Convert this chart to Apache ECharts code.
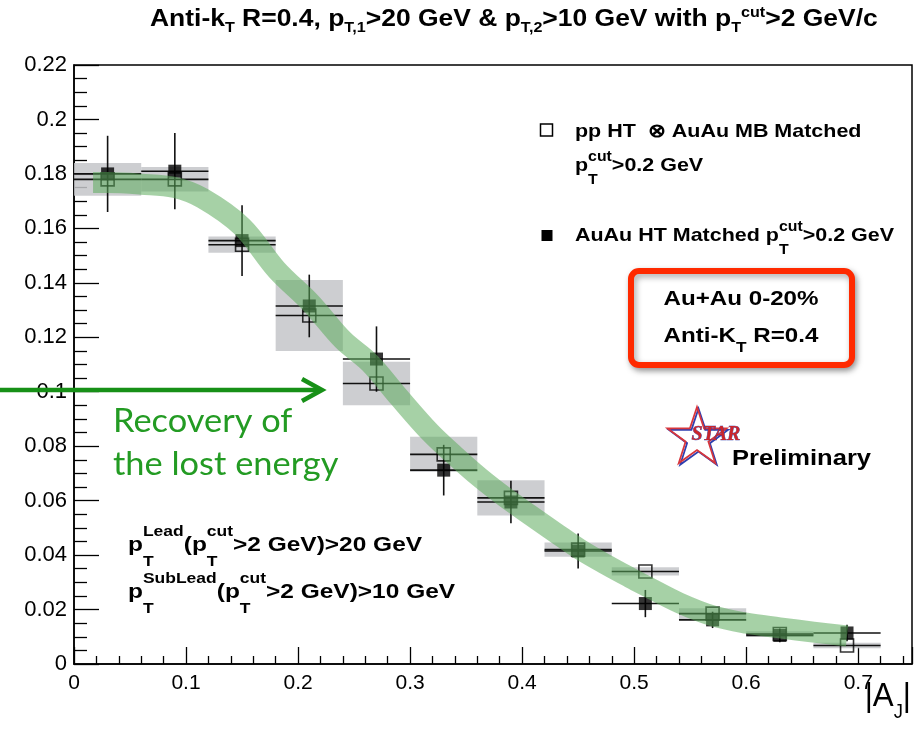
<!DOCTYPE html>
<html>
<head>
<meta charset="utf-8">
<script src="https://cdn.jsdelivr.net/npm/echarts@6/dist/echarts.min.js"></script>
<style>
  html, body { margin: 0; padding: 0; background: #fff; }
  #chart { width: 923px; height: 738px; }
</style>
</head>
<body>
<div id="chart"></div>
<script>
// Bin centres in |A_J| (bin width 0.06)
const binCenters = [0.03, 0.09, 0.15, 0.21, 0.27, 0.33, 0.39, 0.45, 0.51, 0.57, 0.63, 0.69];
const binHalfWidth = 0.03;

// pp HT (x) AuAu MB matched, pT cut > 0.2 GeV (open squares) with systematic boxes
const ppMatched = [0.178, 0.178, 0.154, 0.128, 0.103, 0.077, 0.061, 0.042, 0.034, 0.0185, 0.011, 0.0068];
const ppSys     = [0.006, 0.0045, 0.003, 0.013, 0.008, 0.0065, 0.0065, 0.0026, 0.0015, 0.002, 0.001, 0.001];

// AuAu HT matched, pT cut > 0.2 GeV (filled squares) with statistical errors
const auauMatched = [0.180, 0.181, 0.1555, 0.1315, 0.112, 0.0712, 0.0595, 0.0415, 0.0222, 0.0162, 0.0105, 0.0114];
const auauStat    = [0.014, 0.014, 0.013, 0.0115, 0.012, 0.0093, 0.0078, 0.0064, 0.005, 0.003, 0.0025, 0.003];

// Hand-drawn trend band through the points
const bandX = [0.017, 0.03, 0.06, 0.09, 0.115, 0.15, 0.181, 0.211, 0.240, 0.264, 0.29, 0.318, 0.34, 0.3625, 0.385, 0.407, 0.43, 0.452, 0.475, 0.496, 0.51, 0.54, 0.57, 0.60, 0.63, 0.66, 0.69];
const bandY = [0.1768, 0.1768, 0.1762, 0.175, 0.171, 0.1606, 0.1447, 0.1327, 0.119, 0.1106, 0.098, 0.085, 0.0765, 0.0684, 0.0612, 0.0548, 0.0482, 0.042, 0.0365, 0.0318, 0.0288, 0.0225, 0.0177, 0.015, 0.0133, 0.0117, 0.0103];

// Axis ticks
const yTickStep = 0.02;
const xTickStep = 0.1;

const SANS = '"Liberation Sans", Arial, Helvetica, sans-serif';
const mctx = document.createElement('canvas').getContext('2d');
function textWidth(str, font) { mctx.font = font; return mctx.measureText(str).width; }

// Builds a line of text with TeX-like sub/superscripts as a graphic group.
// y is the vertical centre of the base-size capitals.
function latexLine(x, y, segs, o) {
  const s = o.size, ss = Math.round(s * (o.script || 0.7));
  const weight = o.weight || 'bold';
  const family = o.family || SANS;
  const fontOf = (sz) => weight + ' ' + sz + 'px ' + family;
  const mid = 0.3465;
  const base = mid * s;
  const sx = o.scaleX || 1;
  const z = o.z || 100;
  const children = [];
  let cx = 0;
  const put = (px, py, str, sz) => children.push({
    type: 'text', x: px, y: py, z: z,
    style: { text: str, font: fontOf(sz), fill: o.color || '#000', align: 'left', verticalAlign: 'middle', textAlign: 'left', textVerticalAlign: 'middle' }
  });
  segs.forEach(g => {
    if (typeof g === 'string') {
      put(cx, 0, g, s);
      cx += textWidth(g, fontOf(s));
    } else {
      let w = 0;
      if (g.sup) { put(cx, base - (o.rise || 0.7) * s - mid * ss, g.sup, ss); w = Math.max(w, textWidth(g.sup, fontOf(ss))); }
      if (g.sub) { put(cx, base + (o.drop || 0.6) * s - mid * ss, g.sub, ss); w = Math.max(w, textWidth(g.sub, fontOf(ss))); }
      cx += w;
    }
  });
  let gx = x;
  if (o.align === 'right') gx = x - cx * sx;
  else if (o.align === 'center') gx = x - cx * sx / 2;
  return { type: 'group', x: gx, y: y, scaleX: sx, children: children, z: z };
}

function starPoints(cx, cy, R, r) {
  const pts = [];
  for (let i = 0; i < 10; i++) {
    const a = -Math.PI / 2 + i * Math.PI / 5;
    const rad = i % 2 === 0 ? R : r;
    pts.push([cx + rad * Math.cos(a), cy + rad * Math.sin(a)]);
  }
  return pts;
}

const chart = echarts.init(document.getElementById('chart'), null, { renderer: 'canvas' });

const boxData = binCenters.map((c, i) => [c, ppMatched[i], ppSys[i]]);
const ppErrData = binCenters.map((c, i) => [c, ppMatched[i], 0]);
const auErrData = binCenters.map((c, i) => [c, auauMatched[i], auauStat[i]]);

function errRender(params, api) {
  const x = api.value(0), y = api.value(1), e = api.value(2);
  const l = api.coord([x - binHalfWidth, y]);
  const r = api.coord([x + binHalfWidth, y]);
  const children = [{ type: 'line', shape: { x1: l[0], y1: l[1], x2: r[0], y2: r[1] }, style: { stroke: '#111', lineWidth: 1.6 } }];
  if (e > 0) {
    const t = api.coord([x, y + e]);
    const b = api.coord([x, y - e]);
    children.push({ type: 'line', shape: { x1: t[0], y1: t[1], x2: b[0], y2: b[1] }, style: { stroke: '#111', lineWidth: 1.6 } });
  }
  return { type: 'group', children: children };
}

const legendFont = { size: 19, scaleX: 1.13, rise: 0.55, drop: 0.66, script: 0.76 };
const cutFont = { size: 21, scaleX: 1.165, script: 0.72, rise: 0.75, drop: 0.66 };
const noteFont = { size: 32, scaleX: 1.075, weight: 'normal', family: 'Lato, "Open Sans", sans-serif', color: '#239b23', z: 110 };

const option = {
  animation: false,
  backgroundColor: '#fff',
  grid: { left: 74, top: 65, right: 11, bottom: 74, show: true, borderColor: '#000', borderWidth: 1.5, backgroundColor: 'transparent' },
  xAxis: {
    type: 'value', min: 0, max: 0.748, interval: xTickStep,
    axisLine: { show: true, onZero: false, lineStyle: { color: '#000', width: 1.5 } },
    axisTick: { show: true, inside: true, length: 17, lineStyle: { color: '#000', width: 1.3 } },
    minorTick: { show: true, splitNumber: 5, length: 8, lineStyle: { color: '#000', width: 1.3 } },
    splitLine: { show: false },
    axisLabel: {
      fontFamily: SANS, fontSize: 21, color: '#000', margin: 9, showMaxLabel: false,
      formatter: v => Math.abs(v / xTickStep - Math.round(v / xTickStep)) < 1e-6 ? String(+v.toFixed(2)) : ''
    }
  },
  yAxis: {
    type: 'value', min: 0, max: 0.22, interval: yTickStep,
    axisLine: { show: true, onZero: false, lineStyle: { color: '#000', width: 1.5 } },
    axisTick: { show: true, inside: true, length: 25, lineStyle: { color: '#000', width: 1.3 } },
    minorTick: { show: true, splitNumber: 4, length: 13, lineStyle: { color: '#000', width: 1.3 } },
    splitLine: { show: false },
    axisLabel: { fontFamily: SANS, fontSize: 22, color: '#000', margin: 7, formatter: v => String(+v.toFixed(3)) }
  },
  series: [
    {
      type: 'custom', name: 'pp sys', z: 1, data: boxData,
      renderItem: (params, api) => {
        const x = api.value(0), y = api.value(1), e = api.value(2);
        const p1 = api.coord([x - binHalfWidth, y + e]);
        const p2 = api.coord([x + binHalfWidth, y - e]);
        return { type: 'rect', shape: { x: p1[0], y: p1[1], width: p2[0] - p1[0], height: p2[1] - p1[1] }, style: { fill: 'rgba(196,197,201,0.85)' } };
      }
    },
    { type: 'custom', name: 'pp err', z: 2, data: ppErrData, renderItem: errRender },
    { type: 'custom', name: 'AuAu err', z: 2, data: auErrData, renderItem: errRender },
    {
      type: 'scatter', name: 'pp HT x AuAu MB', z: 3, symbol: 'rect', symbolSize: 13,
      data: binCenters.map((c, i) => [c, ppMatched[i]]),
      itemStyle: { color: 'rgba(255,255,255,0)', borderColor: '#000', borderWidth: 1.6 }
    },
    {
      type: 'scatter', name: 'AuAu HT', z: 3, symbol: 'rect', symbolSize: 13,
      data: binCenters.map((c, i) => [c, auauMatched[i]]),
      itemStyle: { color: '#000' }
    },
    {
      type: 'line', name: 'trend', z: 5, smooth: 0.35, showSymbol: false, symbol: 'none',
      data: bandX.map((x, i) => [x, bandY[i]]),
      lineStyle: { width: 21, color: 'rgba(92,172,92,0.55)', cap: 'butt', join: 'round' }
    }
  ],
  graphic: [
    // title
    latexLine(150, 20, ['Anti-k', { sub: 'T' }, ' R=0.4, p', { sub: 'T,1' }, '>20 GeV & p', { sub: 'T,2' }, '>10 GeV with p', { sub: 'T' }, { sup: 'cut' }, '>2 GeV/c'],
      { size: 23, scaleX: 1.15, script: 0.62, drop: 0.22, rise: 0.42 }),
    // legend
    { type: 'rect', shape: { x: 540.5, y: 124, width: 12, height: 12 }, style: { fill: '#fff', stroke: '#000', lineWidth: 1.5 }, z: 100 },
    latexLine(575, 131.5, ['pp HT  ⊗ AuAu MB Matched'], legendFont),
    latexLine(575, 165.5, ['p', { sup: 'cut', sub: 'T' }, '>0.2 GeV'], legendFont),
    { type: 'rect', shape: { x: 541.5, y: 230, width: 11, height: 11 }, style: { fill: '#000' }, z: 100 },
    latexLine(575, 235.5, ['AuAu HT Matched p', { sup: 'cut', sub: 'T' }, '>0.2 GeV'], legendFont),
    // red info box
    { type: 'rect', shape: { x: 631, y: 271, width: 221, height: 94, r: 8 }, style: { fill: '#fff', stroke: '#ff2a00', lineWidth: 6, shadowBlur: 6, shadowColor: 'rgba(0,0,0,0.35)', shadowOffsetX: 2, shadowOffsetY: 3 }, z: 90 },
    latexLine(741, 299, ['Au+Au 0-20%'], { size: 21, scaleX: 1.15, align: 'center', z: 120 }),
    latexLine(741, 336.5, ['Anti-K', { sub: 'T' }, ' R=0.4'], { size: 21, scaleX: 1.15, align: 'center', script: 0.72, drop: 0.45, z: 120 }),
    // STAR logo
    { type: 'polygon', shape: { points: starPoints(698.5, 439.5, 31, 12) }, style: { fill: 'none', stroke: '#2f3fb0', lineWidth: 1.8 }, z: 100 },
    { type: 'polygon', shape: { points: starPoints(697, 438, 31, 12) }, style: { fill: 'none', stroke: '#d8363c', lineWidth: 1.8 }, z: 101 },
    { type: 'text', x: 716, y: 435, z: 102, style: { text: 'STAR', font: 'italic bold 20px "Liberation Serif", "Times New Roman", serif', fill: '#c9252c', stroke: '#3040b0', lineWidth: 0.6, align: 'center', verticalAlign: 'middle', textAlign: 'center', textVerticalAlign: 'middle' } },
    latexLine(732, 459, ['Preliminary'], { size: 22, scaleX: 1.16 }),
    // cut conditions
    latexLine(128, 545.5, ['p', { sup: 'Lead', sub: 'T' }, '(p', { sup: 'cut', sub: 'T' }, '>2 GeV)>20 GeV'], cutFont),
    latexLine(128, 592.5, ['p', { sup: 'SubLead', sub: 'T' }, '(p', { sup: 'cut', sub: 'T' }, '>2 GeV)>10 GeV'], cutFont),
    // axis title
    latexLine(911, 697, ['|A', { sub: 'J' }, '|'], { size: 34, weight: 'normal', scaleX: 0.92, align: 'right', script: 0.6, drop: 0.3 }),
    // recovery annotation
    { type: 'line', shape: { x1: 0, y1: 390, x2: 321, y2: 390 }, style: { stroke: '#179017', lineWidth: 4.5 }, z: 110 },
    { type: 'polyline', shape: { points: [[302, 379], [322, 390], [302, 401]] }, style: { fill: 'none', stroke: '#179017', lineWidth: 4.5 }, z: 110 },
    latexLine(113, 422, ['Recovery of'], noteFont),
    latexLine(113, 465, ['the lost energy'], noteFont)
  ]
};

chart.setOption(option);
</script>
</body>
</html>
